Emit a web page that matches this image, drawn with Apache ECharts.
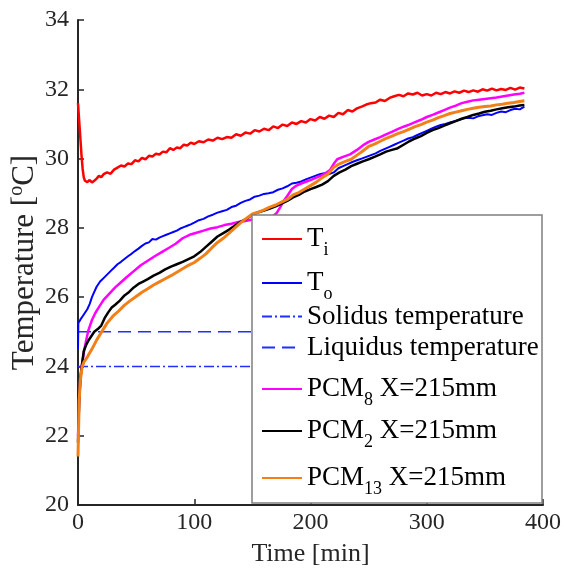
<!DOCTYPE html>
<html>
<head>
<meta charset="utf-8">
<script src="https://cdn.jsdelivr.net/npm/echarts@6/dist/echarts.min.js"></script>
<style>
html,body{margin:0;padding:0;background:#fff;}
#chart{width:564px;height:578px;}
</style>
</head>
<body>
<div id="chart"></div>
<script>
// ---- data ----
const xTicks = [0, 100, 200, 300, 400];
const yTicks = [20, 22, 24, 26, 28, 30, 32, 34];

const tiTime = [0,1,2,3,4,5,6,8,10,12,14,16,18,20,22,25,28,31,34,37,40,43,46,49,52,55,58,61,64,67,70,73,76,79,82,85,88,91,94,97,100,104,108,112,116,120,124,128,132,136,140,144,148,152,156,160,164,168,172,176,180,184,188,192,196,200,204,208,212,216,220,224,228,232,236,240,244,248,252,256,260,264,268,272,276,280,284,288,292,296,300,304,308,312,316,320,324,328,332,336,340,344,348,352,356,360,364,368,372,376,380,384];
const tiTemp = [31.6,31.1,30.6,30.1,29.7,29.45,29.36,29.32,29.38,29.31,29.36,29.42,29.5,29.46,29.55,29.6,29.56,29.68,29.74,29.8,29.77,29.86,29.84,29.95,29.92,30.02,29.98,30.08,30.06,30.14,30.12,30.2,30.18,30.3,30.25,30.32,30.3,30.4,30.38,30.46,30.42,30.5,30.47,30.55,30.52,30.6,30.56,30.62,30.6,30.7,30.66,30.75,30.72,30.82,30.78,30.86,30.82,30.93,30.88,30.98,30.94,31.04,31.0,31.08,31.04,31.14,31.1,31.2,31.15,31.24,31.2,31.32,31.28,31.4,31.36,31.45,31.5,31.56,31.6,31.62,31.7,31.66,31.75,31.8,31.84,31.8,31.88,31.85,31.9,31.82,31.86,31.82,31.9,31.86,31.92,31.88,31.94,31.9,31.96,31.92,31.97,31.93,32.0,31.96,32.02,31.97,32.01,31.98,32.04,31.99,32.05,32.02];

const toTime = [0,0.3,2,4,6,8,10,12,14,16,19,22,25,28,31,34,37,40,43,46,49,52,55,58,61,64,67,70,73,76,79,82,85,88,91,94,97,100,104,108,112,116,120,124,128,132,136,140,144,148,152,156,160,164,168,172,176,180,184,188,192,196,200,204,208,212,216,220,224,228,232,236,240,244,248,252,256,260,264,268,272,276,280,284,288,292,296,300,304,308,312,316,320,324,328,332,336,340,344,348,352,356,360,364,368,372,376,380,384];
const toTemp = [24.5,25.25,25.35,25.45,25.55,25.65,25.8,26.0,26.15,26.3,26.45,26.55,26.65,26.75,26.85,26.95,27.02,27.1,27.18,27.25,27.33,27.4,27.48,27.55,27.58,27.68,27.66,27.72,27.76,27.8,27.84,27.88,27.92,27.98,28.02,28.06,28.1,28.15,28.22,28.26,28.33,28.38,28.44,28.48,28.52,28.6,28.64,28.72,28.78,28.82,28.9,28.93,28.98,29.0,29.03,29.1,29.14,29.2,29.28,29.3,29.34,29.4,29.45,29.5,29.55,29.58,29.55,29.6,29.72,29.78,29.84,29.9,29.95,30.0,30.05,30.1,30.15,30.22,30.28,30.34,30.4,30.46,30.52,30.58,30.62,30.68,30.74,30.8,30.86,30.92,30.97,31.0,31.04,31.08,31.12,31.16,31.18,31.16,31.22,31.25,31.28,31.26,31.32,31.36,31.34,31.4,31.44,31.42,31.5];

const limitTime = [0, 384];
const solidusTemp = [24, 24];
const liquidusTemp = [25, 25];

const pcm8Time = [0,1,2,3,5,7,9,12,15,18,22,27,32,37,42,48,54,60,66,72,78,84,90,96,102,108,114,120,126,132,138,144,150,156,162,168,171,174,177,180,184,188,192,196,200,205,210,214,217,220,223,228,234,240,245,250,255,260,265,270,275,280,285,290,295,300,305,310,315,320,325,330,335,340,345,350,355,360,365,370,375,380,384];
const pcm8Temp = [22.0,23.0,23.6,23.95,24.4,24.75,25.05,25.34,25.55,25.71,25.92,26.1,26.28,26.43,26.58,26.75,26.92,27.05,27.18,27.3,27.42,27.54,27.7,27.8,27.86,27.92,27.98,28.02,28.08,28.12,28.17,28.2,28.24,28.26,28.3,28.35,28.43,28.6,28.78,28.92,29.12,29.22,29.28,29.33,29.38,29.45,29.52,29.6,29.68,29.85,29.98,30.05,30.12,30.25,30.38,30.48,30.55,30.62,30.7,30.77,30.85,30.92,30.98,31.05,31.12,31.2,31.26,31.33,31.4,31.47,31.53,31.6,31.64,31.68,31.7,31.72,31.74,31.76,31.79,31.82,31.85,31.87,31.9];

const pcm2Time = [0,1,2,3,4,5,7,9,11,14,17,20,23,26,29,32,36,40,44,48,52,56,60,65,70,75,80,85,90,95,100,105,110,115,120,125,130,135,140,145,150,155,160,165,170,175,180,185,190,195,200,205,210,215,220,225,230,235,240,245,250,255,260,265,270,275,280,285,290,295,300,305,310,315,320,325,330,335,340,345,350,355,360,365,370,375,380,384];
const pcm2Temp = [21.8,23.0,23.6,23.95,24.2,24.45,24.62,24.75,24.85,25.0,25.08,25.18,25.4,25.56,25.7,25.78,25.9,26.05,26.15,26.28,26.38,26.45,26.52,26.62,26.7,26.8,26.88,26.95,27.02,27.1,27.18,27.3,27.45,27.6,27.75,27.85,27.95,28.07,28.18,28.26,28.38,28.45,28.5,28.56,28.62,28.7,28.78,28.88,28.95,29.05,29.12,29.18,29.25,29.35,29.5,29.6,29.68,29.78,29.85,29.92,29.98,30.05,30.12,30.2,30.25,30.3,30.4,30.5,30.58,30.65,30.74,30.82,30.88,30.95,31.02,31.08,31.15,31.2,31.26,31.3,31.35,31.38,31.42,31.45,31.48,31.5,31.53,31.55];

const pcm13Time = [0,1,2,3.5,5,8,12,16,20,25,30,35,40,45,50,55,60,65,70,75,80,85,90,95,100,105,110,115,120,125,130,135,140,145,150,155,160,165,170,175,180,185,190,195,200,205,210,215,220,225,230,235,240,245,250,255,260,265,270,275,280,285,290,295,300,305,310,315,320,325,330,335,340,345,350,355,360,365,370,375,380,384];
const pcm13Temp = [21.4,23.0,23.6,23.98,24.12,24.27,24.5,24.76,24.98,25.25,25.45,25.6,25.77,25.9,26.02,26.14,26.24,26.35,26.44,26.53,26.62,26.72,26.82,26.92,27.0,27.12,27.25,27.42,27.58,27.7,27.85,28.0,28.15,28.28,28.4,28.45,28.52,28.6,28.66,28.74,28.82,28.95,29.02,29.12,29.22,29.32,29.45,29.55,29.75,29.85,29.92,29.98,30.1,30.22,30.35,30.42,30.5,30.58,30.65,30.72,30.78,30.85,30.92,30.98,31.05,31.11,31.18,31.24,31.3,31.34,31.38,31.42,31.45,31.48,31.5,31.52,31.55,31.57,31.6,31.62,31.65,31.67];

const legendNames = ['Ti', 'To', 'Solidus temperature', 'Liquidus temperature', 'PCM8', 'PCM2', 'PCM13'];
const legendLabels = ['{m|T}{s|i}', '{m|T}{s|o}', '{m|Solidus temperature}', '{m|Liquidus temperature}',
  '{m|PCM}{s|8}{m| X=215mm}', '{m|PCM}{s|2}{m| X=215mm}', '{m|PCM}{s|13}{m| X=215mm}'];

// ---- chart ----
const FONT = 'Liberation Serif';
const AXC = '#262626';
const zip = (t, v) => t.map((x, i) => [x, v[i]]);

function lineSeries(name, t, v, color, width, type) {
  return {
    name: name, type: 'line', data: zip(t, v), symbol: 'none', showSymbol: false,
    animation: false, smooth: false,
    lineStyle: { color: color, width: width, type: type || 'solid' },
    itemStyle: { color: color }
  };
}

const series = [
  lineSeries('Solidus temperature', limitTime, solidusTemp, '#1f2fff', 1.5, [10, 3, 2, 3]),
  lineSeries('Liquidus temperature', limitTime, liquidusTemp, '#1f2fff', 1.5, [13, 7]),
  lineSeries('To', toTime, toTemp, '#0000ff', 2),
  lineSeries('PCM8', pcm8Time, pcm8Temp, '#ff00ff', 2.5),
  lineSeries('PCM2', pcm2Time, pcm2Temp, '#000000', 2.5),
  lineSeries('PCM13', pcm13Time, pcm13Temp, '#f28018', 3),
  lineSeries('Ti', tiTime, tiTemp, '#ff0000', 2.5)
];

const rowCenters = [238, 282, 322, 353, 388, 430, 477];
const rich = {
  m: { fontFamily: FONT, fontSize: 27, color: '#000', lineHeight: 38 },
  s: { fontFamily: FONT, fontSize: 18, color: '#000', lineHeight: 20, padding: [22, 0, 0, 0] }
};
const legends = legendNames.map((n, i) => ({
  data: [n], orient: 'vertical', left: 261, top: rowCenters[i] - 19, padding: 0,
  itemWidth: 40, itemHeight: 14, selectedMode: false, z: 60,
  itemStyle: { opacity: 0 },
  formatter: () => legendLabels[i],
  textStyle: { rich: rich }
}));

const chart = echarts.init(document.getElementById('chart'), null, { renderer: 'canvas' });
chart.setOption({
  animation: false,
  backgroundColor: '#fff',
  grid: { left: 78, right: 21, top: 20, bottom: 73, containLabel: false, outerBoundsMode: 'none' },
  xAxis: {
    type: 'value', min: xTicks[0], max: xTicks[xTicks.length - 1], interval: xTicks[1] - xTicks[0],
    name: 'Time [min]', nameLocation: 'middle', nameGap: 36, nameMoveOverlap: false,
    nameTextStyle: { fontFamily: FONT, fontSize: 26, color: AXC },
    axisLine: { show: true, lineStyle: { color: AXC, width: 2 } },
    axisTick: { show: true, inside: true, length: 6, lineStyle: { color: AXC, width: 1.5 } },
    axisLabel: { fontFamily: FONT, fontSize: 24, color: AXC, margin: 6 },
    splitLine: { show: false }
  },
  yAxis: {
    type: 'value', min: yTicks[0], max: yTicks[yTicks.length - 1], interval: yTicks[1] - yTicks[0],
    name: '{m|Temperature [}{p|o}{m|C]}', nameLocation: 'middle', nameGap: 36, nameRotate: 90,
    nameMoveOverlap: false,
    nameTextStyle: { rich: {
      m: { fontFamily: FONT, fontSize: 31, color: AXC, lineHeight: 34 },
      p: { fontFamily: FONT, fontSize: 20, color: AXC, lineHeight: 20, padding: [0, 0, 16, 0] }
    } },
    axisLine: { show: true, onZero: false, lineStyle: { color: AXC, width: 2 } },
    axisTick: { show: true, inside: true, length: 6, lineStyle: { color: AXC, width: 1.5 } },
    axisLabel: { fontFamily: FONT, fontSize: 24, color: AXC, margin: 9 },
    splitLine: { show: false }
  },
  legend: legends,
  graphic: [{
    type: 'rect', z: 50, shape: { x: 252, y: 215, width: 290, height: 288 },
    style: { fill: '#fff', stroke: '#7f7f7f', lineWidth: 1.5 }
  }],
  series: series
});
</script>
</body>
</html>
